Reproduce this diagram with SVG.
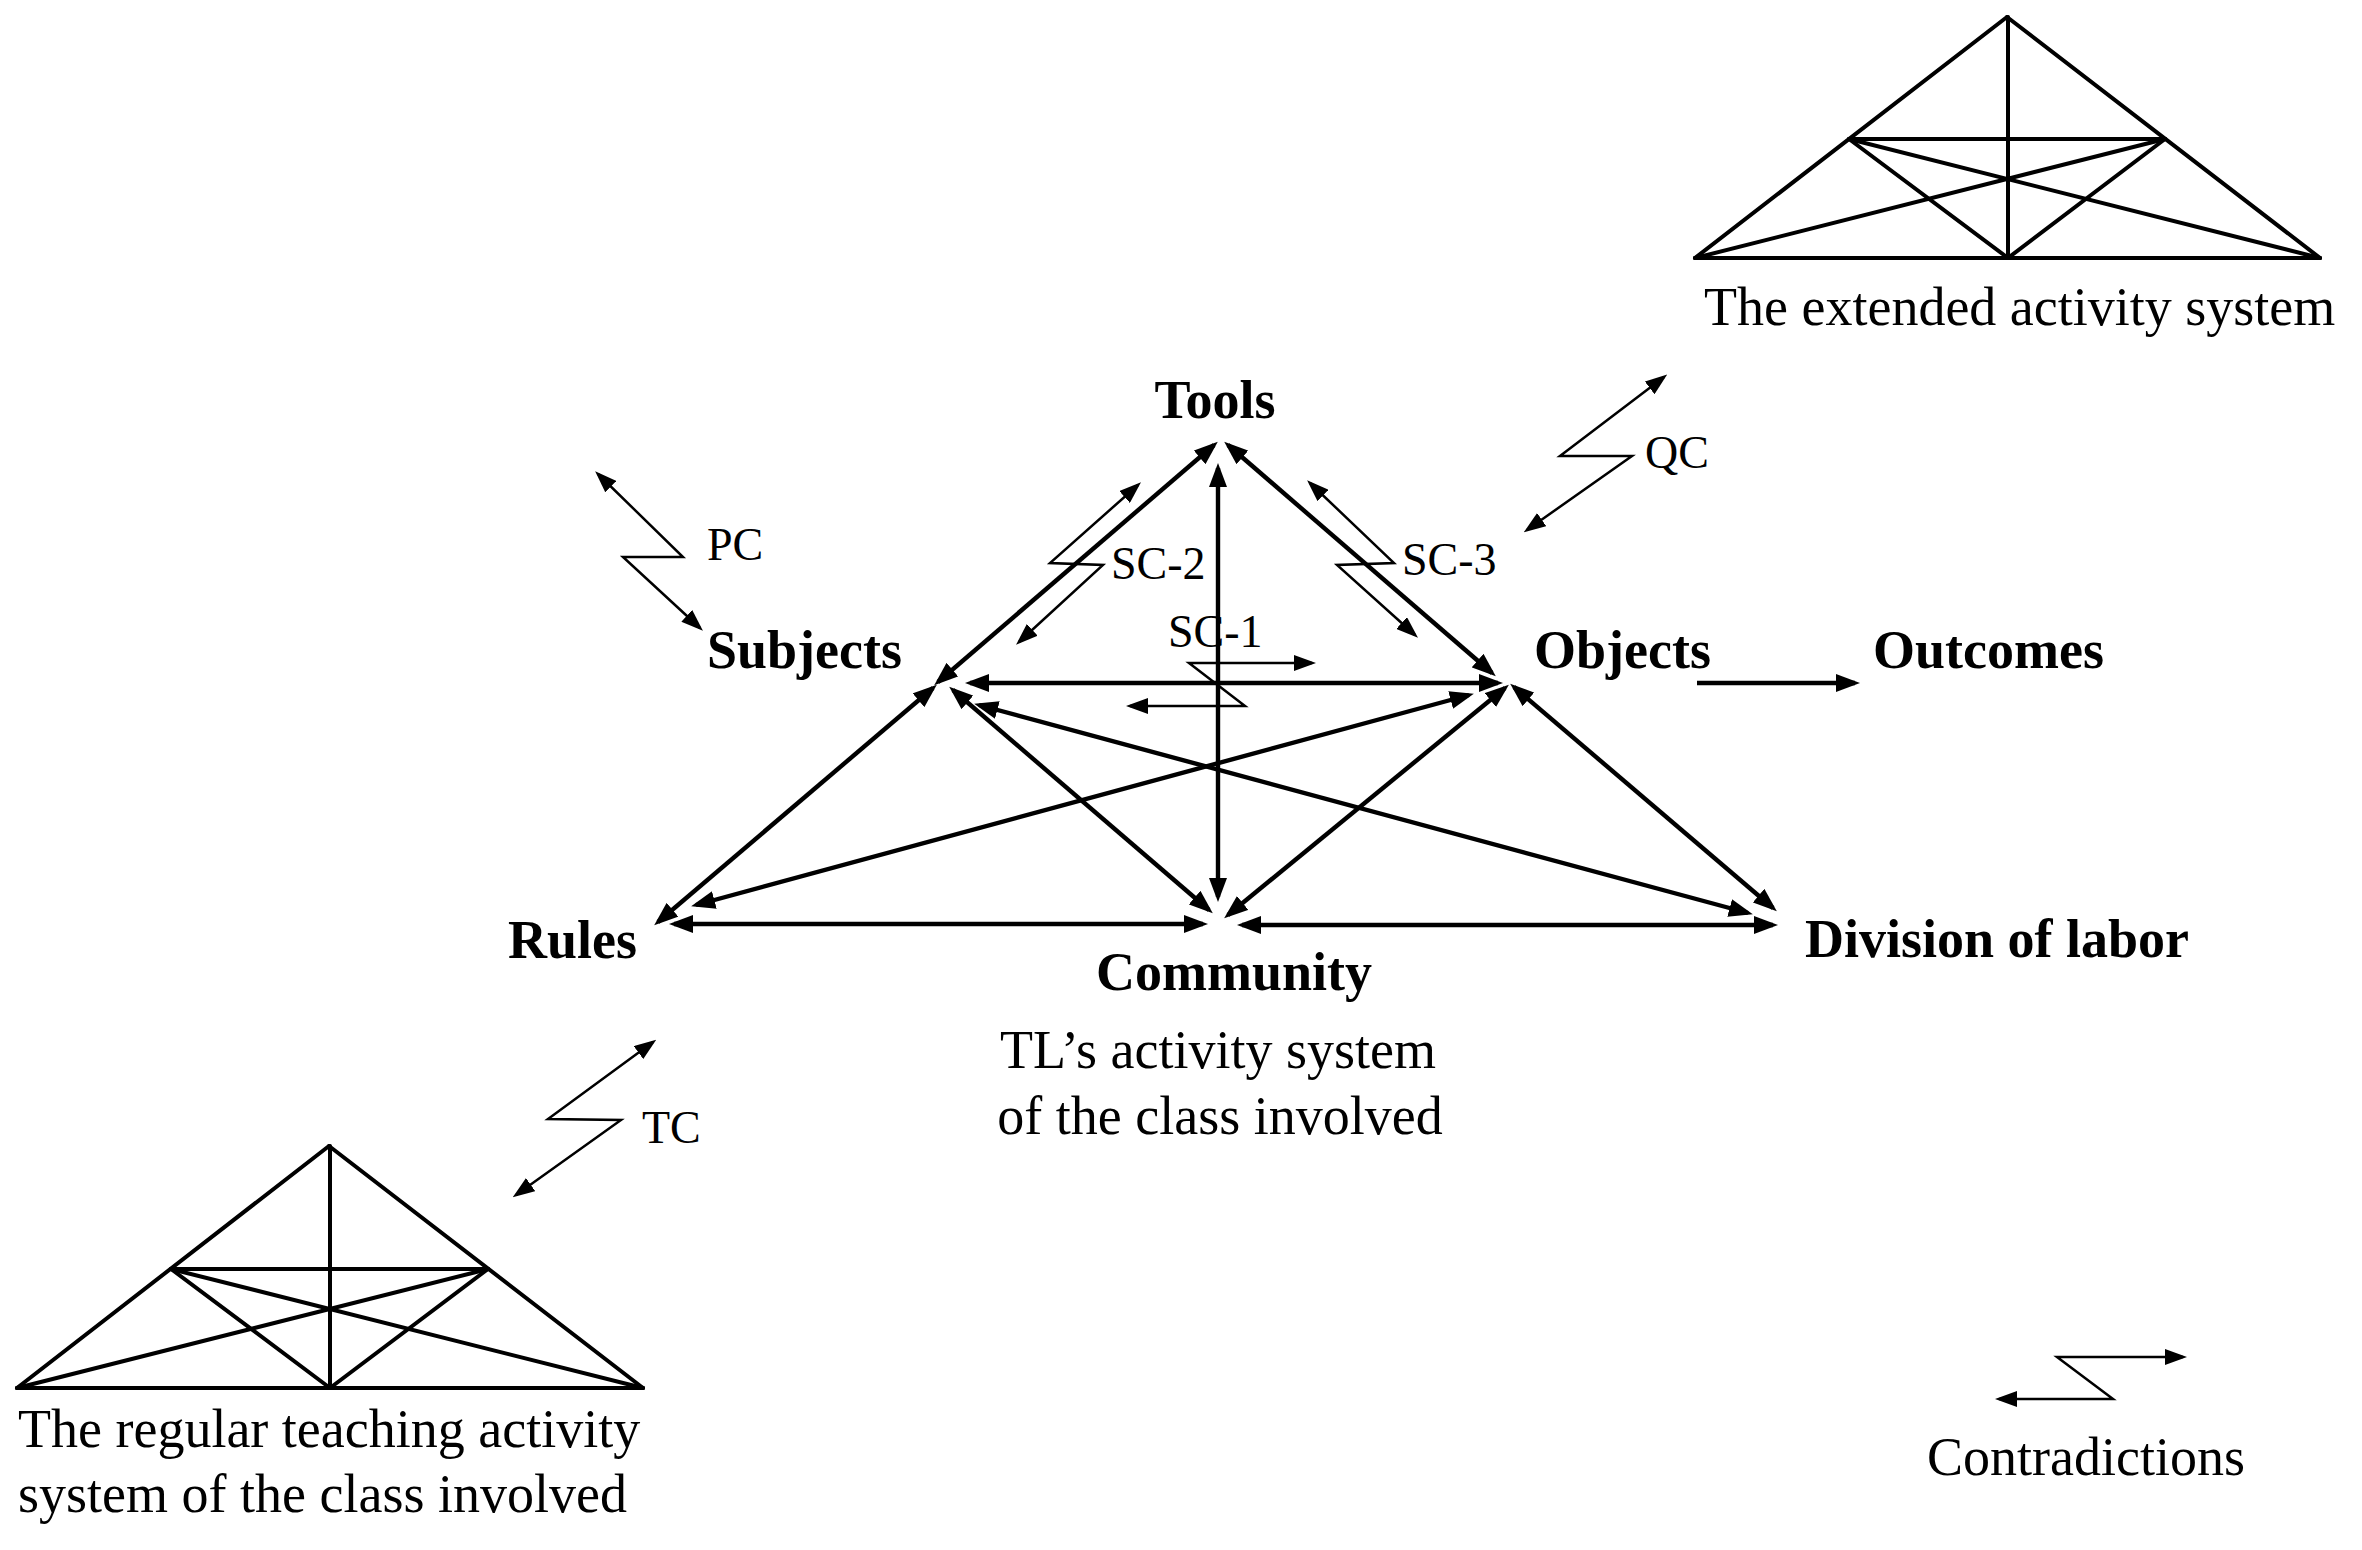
<svg xmlns="http://www.w3.org/2000/svg" width="2362" height="1550" viewBox="0 0 2362 1550">
<style>
.lbl{font-family:"Liberation Serif","Times New Roman",serif;font-weight:bold;font-size:54px;fill:#000}
.txt{font-family:"Liberation Serif","Times New Roman",serif;font-size:54px;fill:#000}
.ctxt{font-family:"Liberation Serif","Times New Roman",serif;font-size:46px;fill:#000}
.main{stroke:#000;stroke-width:4.4;fill:none;marker-start:url(#ah);marker-end:url(#ah)}
.one{stroke:#000;stroke-width:4.4;fill:none;marker-end:url(#ah)}
.zz{stroke:#000;stroke-width:2.5;fill:none;stroke-linejoin:miter;marker-start:url(#sh);marker-end:url(#sh)}
.tri line{stroke:#000;stroke-width:4;stroke-linecap:round}
</style>
<defs>
<marker id="ah" markerUnits="userSpaceOnUse" markerWidth="24" markerHeight="18" refX="19" refY="9" orient="auto-start-reverse"><path d="M0,0 L24,9 L0,18 z" fill="#000"/></marker>
<marker id="sh" markerUnits="userSpaceOnUse" markerWidth="22" markerHeight="16" refX="18" refY="8" orient="auto-start-reverse"><path d="M0,0 L22,8 L0,16 z" fill="#000"/></marker>
</defs>
<rect width="2362" height="1550" fill="#fff"/>

<g id="connectors">
<path class="main" d="M1214,445 L938,682"/>
<path class="main" d="M1228,445 L1492,673"/>
<path class="main" d="M1218,468 L1218,897"/>
<path class="main" d="M970,683 L1498,683"/>
<path class="main" d="M933,688 L658,922"/>
<path class="main" d="M953,690 L1209,910"/>
<path class="main" d="M979,705 L1748,913"/>
<path class="main" d="M696,905 L1469,695"/>
<path class="main" d="M1228,915 L1505,688"/>
<path class="main" d="M1514,687 L1773,908"/>
<path class="main" d="M674,924 L1203,924"/>
<path class="main" d="M1242,925 L1773,925"/>
<path class="one" d="M1697,683 L1855,683"/>
</g>

<g id="contradictions">
<g id="pc"><path class="zz" d="M598,474 L683,557 L623,557 L700,628"/><text class="ctxt" x="707" y="560">PC</text></g>
<g id="sc2"><path class="zz" d="M1138,485 L1050,563 L1103,565 L1019,642"/><text class="ctxt" x="1111" y="579">SC-2</text></g>
<g id="sc3"><path class="zz" d="M1310,483 L1394,563 L1337,565 L1415,635"/><text class="ctxt" x="1402" y="575">SC-3</text></g>
<g id="sc1"><path class="zz" d="M1312,663 L1189,663 L1245,706 L1130,706"/><text class="ctxt" x="1168" y="647">SC-1</text></g>
<g id="qc"><path class="zz" d="M1664,377 L1560,456 L1632,456 L1527,530"/><text class="ctxt" x="1645" y="468">QC</text></g>
<g id="tc"><path class="zz" d="M653,1042 L548,1119 L621,1120 L516,1195"/><text class="ctxt" x="642" y="1143">TC</text></g>
</g>

<g id="node-tools"><text class="lbl" x="1215" y="418" text-anchor="middle">Tools</text></g>
<g id="node-subjects"><text class="lbl" x="707" y="668">Subjects</text></g>
<g id="node-objects"><text class="lbl" x="1534" y="668">Objects</text></g>
<g id="node-outcomes"><text class="lbl" x="1873" y="668">Outcomes</text></g>
<g id="node-rules"><text class="lbl" x="508" y="958">Rules</text></g>
<g id="node-community"><text class="lbl" x="1234" y="990" text-anchor="middle">Community</text></g>
<g id="node-division"><text class="lbl" x="1805" y="957">Division of labor</text></g>
<g id="caption-tl"><text class="txt" x="1218" y="1068" text-anchor="middle">TL’s activity system</text><text class="txt" x="1220" y="1134" text-anchor="middle">of the class involved</text></g>

<g id="extended-system" class="tri">
<line x1="2007" y1="17" x2="1695" y2="258"/>
<line x1="2007" y1="17" x2="2320" y2="258"/>
<line x1="1695" y1="258" x2="2320" y2="258"/>
<line x1="2008" y1="17" x2="2008" y2="258"/>
<line x1="1849" y1="139" x2="2165" y2="139"/>
<line x1="1849" y1="139" x2="2008" y2="258"/>
<line x1="2165" y1="139" x2="2008" y2="258"/>
<line x1="1849" y1="139" x2="2320" y2="258"/>
<line x1="2165" y1="139" x2="1695" y2="258"/>
<text class="txt" x="1704" y="325">The extended activity system</text>
</g>

<g id="regular-system" class="tri">
<line x1="329" y1="1146" x2="17" y2="1388"/>
<line x1="329" y1="1146" x2="643" y2="1388"/>
<line x1="17" y1="1388" x2="643" y2="1388"/>
<line x1="330" y1="1146" x2="330" y2="1388"/>
<line x1="171" y1="1269" x2="488" y2="1269"/>
<line x1="171" y1="1269" x2="330" y2="1388"/>
<line x1="488" y1="1269" x2="330" y2="1388"/>
<line x1="171" y1="1269" x2="643" y2="1388"/>
<line x1="488" y1="1269" x2="17" y2="1388"/>
<text class="txt" x="18" y="1447">The regular teaching activity</text>
<text class="txt" x="18" y="1512">system of the class involved</text>
</g>

<g id="legend">
<path class="zz" d="M2183,1357 L2057,1357 L2113,1399 L1999,1399"/>
<text class="txt" x="1927" y="1475">Contradictions</text>
</g>
</svg>
